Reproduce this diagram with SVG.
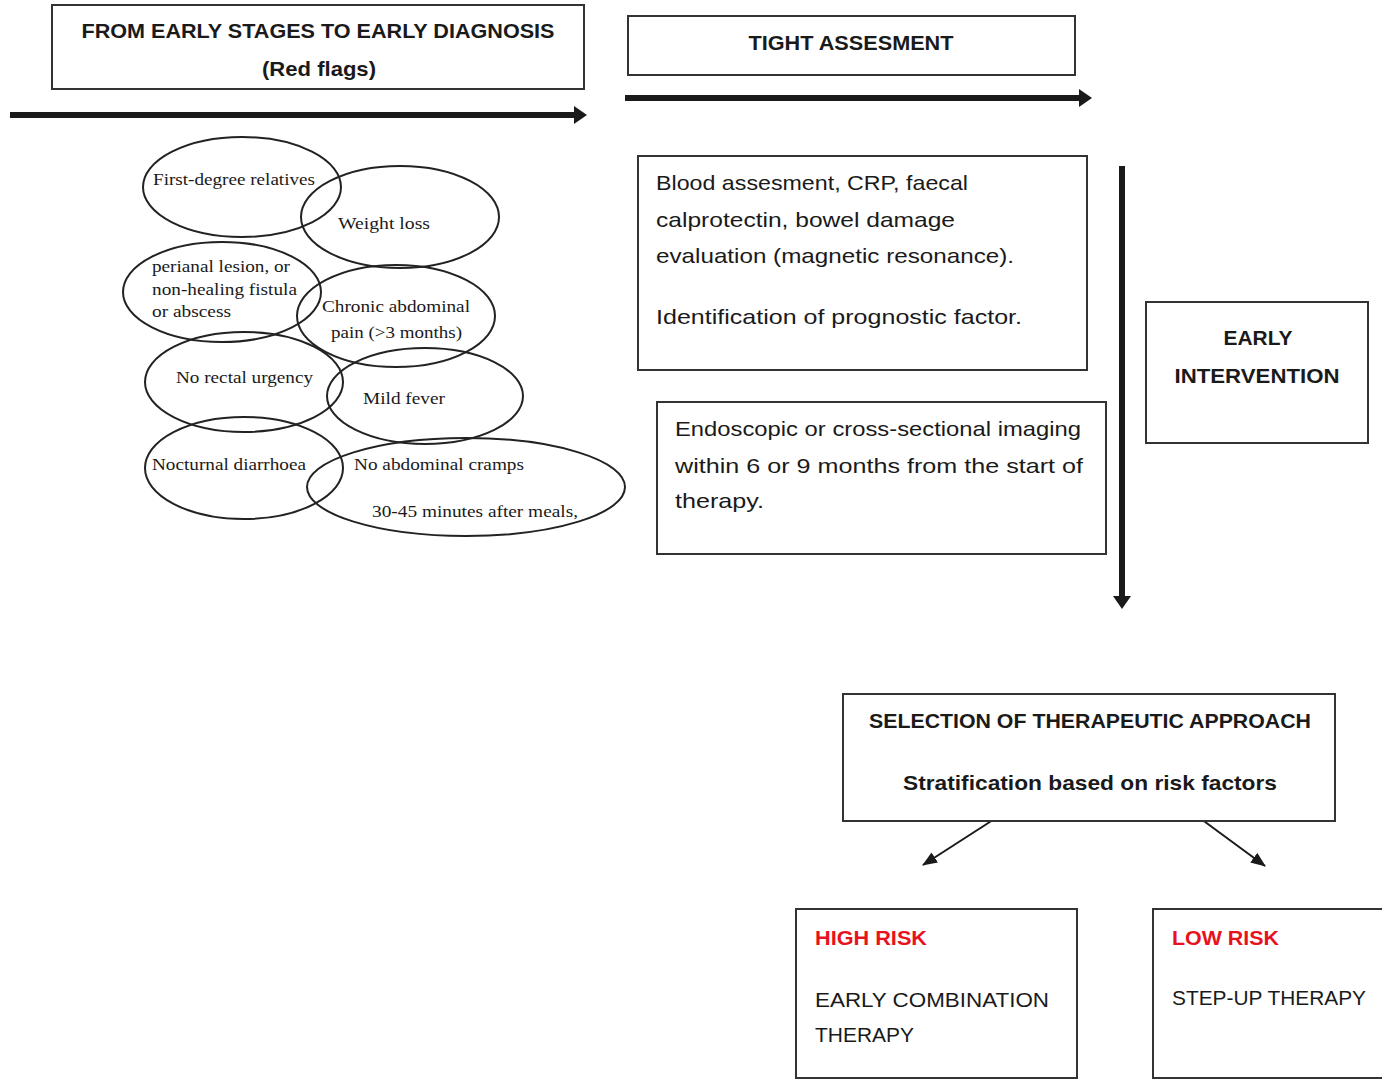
<svg xmlns="http://www.w3.org/2000/svg" width="1382" height="1081" viewBox="0 0 1382 1081">
<defs>
<style>
.box{fill:#fff;stroke:#333;stroke-width:2}
.ell{fill:none;stroke:#222;stroke-width:2}
.sans{font-family:"Liberation Sans","Open Sans",Arial,sans-serif;font-size:21px;fill:#1a1a1a}
.b{font-weight:bold}
.red{fill:#e8121e}
.serif{font-family:"Liberation Serif","Times New Roman",serif;font-size:17px;fill:#1a1a1a}
.thick{stroke:#1a1a1a;stroke-width:6;fill:none}
.thin{stroke:#1a1a1a;stroke-width:2;fill:none}
</style>
<marker id="bigHead" markerUnits="userSpaceOnUse" markerWidth="14" markerHeight="18" refX="2" refY="9" orient="auto">
<path d="M0,0 L13,9 L0,18 z" fill="#1a1a1a"/>
</marker>
<marker id="smallHead" markerUnits="userSpaceOnUse" markerWidth="16" markerHeight="12" refX="14" refY="6" orient="auto">
<path d="M0,0 L15,6 L0,12 z" fill="#1a1a1a"/>
</marker>
</defs>
<rect width="1382" height="1081" fill="#fff"/>

<g id="connectors">
<line class="thick" x1="10" y1="115" x2="576" y2="115" marker-end="url(#bigHead)"/>
<line class="thick" x1="625" y1="98" x2="1081" y2="98" marker-end="url(#bigHead)"/>
<line class="thick" x1="1122" y1="166" x2="1122" y2="598" marker-end="url(#bigHead)"/>
<line class="thin" x1="996" y1="818" x2="923" y2="865" marker-end="url(#smallHead)"/>
<line class="thin" x1="1197" y1="816" x2="1265" y2="866" marker-end="url(#smallHead)"/>
</g>

<g id="node-early-diagnosis">
<rect class="box" x="52" y="5" width="532" height="84"/>
<text class="sans b" x="318" y="38" text-anchor="middle" textLength="473" lengthAdjust="spacingAndGlyphs">FROM EARLY STAGES TO EARLY DIAGNOSIS</text>
<text class="sans b" x="319" y="76" text-anchor="middle" textLength="114" lengthAdjust="spacingAndGlyphs">(Red flags)</text>
</g>

<g id="node-tight-assessment">
<rect class="box" x="628" y="16" width="447" height="59"/>
<text class="sans b" x="851" y="50" text-anchor="middle" textLength="205" lengthAdjust="spacingAndGlyphs">TIGHT ASSESMENT</text>
</g>

<g id="node-red-flags">
<ellipse class="ell" cx="242" cy="187" rx="99" ry="50"/>
<ellipse class="ell" cx="400" cy="217" rx="99" ry="51"/>
<ellipse class="ell" cx="222" cy="292" rx="99" ry="50"/>
<ellipse class="ell" cx="396" cy="316" rx="99" ry="51"/>
<ellipse class="ell" cx="244" cy="382" rx="99" ry="50"/>
<ellipse class="ell" cx="425" cy="396" rx="98" ry="48"/>
<ellipse class="ell" cx="244" cy="468" rx="99" ry="51"/>
<ellipse class="ell" cx="466" cy="487" rx="159" ry="49"/>
<text class="serif" x="153" y="185" textLength="162" lengthAdjust="spacingAndGlyphs">First-degree relatives</text>
<text class="serif" x="338" y="229" textLength="92" lengthAdjust="spacingAndGlyphs">Weight loss</text>
<text class="serif" x="152" y="272" textLength="138" lengthAdjust="spacingAndGlyphs">perianal lesion, or</text>
<text class="serif" x="152" y="295" textLength="145" lengthAdjust="spacingAndGlyphs">non-healing fistula</text>
<text class="serif" x="152" y="317" textLength="79" lengthAdjust="spacingAndGlyphs">or abscess</text>
<text class="serif" x="322" y="312" textLength="148" lengthAdjust="spacingAndGlyphs">Chronic abdominal</text>
<text class="serif" x="331" y="338" textLength="131" lengthAdjust="spacingAndGlyphs">pain (&gt;3 months)</text>
<text class="serif" x="176" y="383" textLength="137" lengthAdjust="spacingAndGlyphs">No rectal urgency</text>
<text class="serif" x="363" y="404" textLength="82" lengthAdjust="spacingAndGlyphs">Mild fever</text>
<text class="serif" x="152" y="470" textLength="154" lengthAdjust="spacingAndGlyphs">Nocturnal diarrhoea</text>
<text class="serif" x="354" y="470" textLength="170" lengthAdjust="spacingAndGlyphs">No abdominal cramps</text>
<text class="serif" x="372" y="517" textLength="206" lengthAdjust="spacingAndGlyphs">30-45 minutes after meals,</text>
</g>

<g id="node-blood">
<rect class="box" x="638" y="156" width="449" height="214"/>
<text class="sans" x="656" y="190" textLength="312" lengthAdjust="spacingAndGlyphs">Blood assesment, CRP, faecal</text>
<text class="sans" x="656" y="227" textLength="299" lengthAdjust="spacingAndGlyphs">calprotectin, bowel damage</text>
<text class="sans" x="656" y="263" textLength="358" lengthAdjust="spacingAndGlyphs">evaluation (magnetic resonance).</text>
<text class="sans" x="656" y="324" textLength="366" lengthAdjust="spacingAndGlyphs">Identification of prognostic factor.</text>
</g>

<g id="node-endoscopic">
<rect class="box" x="657" y="402" width="449" height="152"/>
<text class="sans" x="675" y="436" textLength="406" lengthAdjust="spacingAndGlyphs">Endoscopic or cross-sectional imaging</text>
<text class="sans" x="675" y="473" textLength="408" lengthAdjust="spacingAndGlyphs">within 6 or 9 months from the start of</text>
<text class="sans" x="675" y="508" textLength="89" lengthAdjust="spacingAndGlyphs">therapy.</text>
</g>

<g id="node-early-intervention">
<rect class="box" x="1146" y="302" width="222" height="141"/>
<text class="sans b" x="1258" y="345" text-anchor="middle" textLength="69" lengthAdjust="spacingAndGlyphs">EARLY</text>
<text class="sans b" x="1257" y="383" text-anchor="middle" textLength="165" lengthAdjust="spacingAndGlyphs">INTERVENTION</text>
</g>

<g id="node-selection">
<rect class="box" x="843" y="694" width="492" height="127"/>
<text class="sans b" x="1090" y="728" text-anchor="middle" textLength="442" lengthAdjust="spacingAndGlyphs">SELECTION OF THERAPEUTIC APPROACH</text>
<text class="sans b" x="1090" y="790" text-anchor="middle" textLength="374" lengthAdjust="spacingAndGlyphs">Stratification based on risk factors</text>
</g>

<g id="node-high-risk">
<rect class="box" x="796" y="909" width="281" height="169"/>
<text class="sans b red" x="815" y="945" textLength="112" lengthAdjust="spacingAndGlyphs">HIGH RISK</text>
<text class="sans" x="815" y="1007" textLength="234" lengthAdjust="spacingAndGlyphs">EARLY COMBINATION</text>
<text class="sans" x="815" y="1042" textLength="99" lengthAdjust="spacingAndGlyphs">THERAPY</text>
</g>

<g id="node-low-risk">
<rect class="box" x="1153" y="909" width="240" height="169"/>
<text class="sans b red" x="1172" y="945" textLength="107" lengthAdjust="spacingAndGlyphs">LOW RISK</text>
<text class="sans" x="1172" y="1005" textLength="194" lengthAdjust="spacingAndGlyphs">STEP-UP THERAPY</text>
</g>
</svg>
